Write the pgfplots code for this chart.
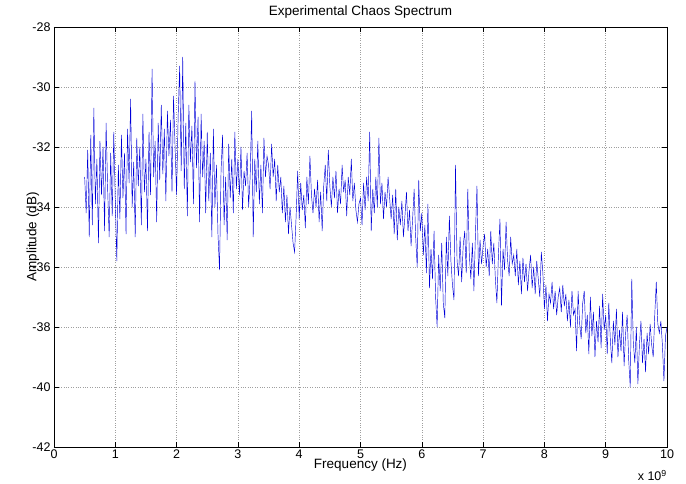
\documentclass[border=0pt]{standalone}
\usepackage{pgfplots}
\pgfplotsset{compat=1.18}
\usepackage{fontspec}
\setmainfont{Liberation Sans}
\begin{document}
\begin{tikzpicture}[font=\fontsize{12.5bp}{14bp}\selectfont]
\begin{axis}[
    scale only axis,
    width=613bp, height=420bp,
    xmin=0, xmax=10, ymin=-42, ymax=-28,
    xtick={0,1,...,10}, ytick={-42,-40,...,-28},
    xticklabels={0,1,2,3,4,5,6,7,8,9,10},
    yticklabels={-42,-40,-38,-36,-34,-32,-30,-28},
    tick align=inside, tick pos=both,
    major tick length=5bp,
    grid=major,
    grid style={dotted, gray!75, line width=0.5pt},
    axis line style={black, line width=0.5pt},
    tick style={black, line width=0.5pt},
    xticklabel style={yshift=1bp},
    yticklabel style={xshift=0bp},
    clip=false,
  ]
  \addplot[color=blue!85!black, line width=0.45pt] coordinates {
(0.500,-33.0)(0.525,-34.2)(0.550,-32.1)(0.575,-35.0)(0.600,-31.6)(0.625,-34.6)(0.650,-30.7)(0.675,-33.9)(0.700,-32.4)(0.725,-35.2)(0.750,-31.8)(0.775,-33.6)(0.800,-32.0)(0.825,-34.8)(0.850,-31.2)(0.875,-33.4)(0.900,-35.0)(0.925,-32.2)(0.950,-34.3)(0.975,-31.5)
(1.000,-33.8)(1.025,-35.8)(1.050,-32.6)(1.075,-34.4)(1.100,-31.6)(1.125,-33.7)(1.150,-32.2)(1.175,-34.9)(1.200,-31.4)(1.225,-33.2)(1.250,-30.4)(1.275,-34.0)(1.300,-32.5)(1.325,-35.0)(1.350,-31.7)(1.375,-33.3)(1.400,-32.0)(1.425,-34.6)(1.450,-30.9)(1.475,-33.5)
(1.500,-32.4)(1.525,-34.8)(1.550,-31.5)(1.575,-33.6)(1.600,-29.4)(1.625,-33.0)(1.650,-31.8)(1.675,-34.5)(1.700,-31.2)(1.725,-33.1)(1.750,-30.6)(1.775,-32.9)(1.800,-31.4)(1.825,-33.8)(1.850,-30.8)(1.875,-32.3)(1.900,-31.1)(1.925,-33.5)(1.950,-30.3)(1.975,-32.0)
(2.000,-33.6)(2.025,-31.0)(2.050,-29.3)(2.075,-32.8)(2.100,-29.0)(2.125,-33.4)(2.150,-31.2)(2.175,-34.3)(2.200,-30.6)(2.225,-32.5)(2.250,-31.3)(2.275,-33.9)(2.300,-29.8)(2.325,-32.7)(2.350,-31.0)(2.375,-34.5)(2.400,-30.9)(2.425,-33.0)(2.450,-31.8)(2.475,-34.2)
(2.500,-31.5)(2.525,-33.8)(2.550,-32.2)(2.575,-35.0)(2.600,-31.4)(2.625,-34.0)(2.650,-32.6)(2.675,-34.9)(2.700,-36.1)(2.725,-32.8)(2.750,-31.6)(2.775,-34.6)(2.800,-33.0)(2.825,-35.1)(2.850,-31.9)(2.875,-33.7)(2.900,-32.4)(2.925,-34.2)(2.950,-31.5)(2.975,-33.4)
(3.000,-32.4)(3.025,-33.6)(3.050,-32.0)(3.075,-34.1)(3.100,-32.8)(3.125,-33.3)(3.150,-32.2)(3.175,-34.0)(3.200,-33.0)(3.225,-30.8)(3.250,-35.0)(3.275,-32.4)(3.300,-33.5)(3.325,-31.8)(3.350,-33.9)(3.375,-32.6)(3.400,-34.2)(3.425,-31.7)(3.450,-33.0)(3.475,-32.3)
(3.500,-32.6)(3.525,-33.4)(3.550,-31.9)(3.575,-33.0)(3.600,-32.4)(3.625,-33.8)(3.650,-32.6)(3.675,-33.5)(3.700,-33.0)(3.725,-34.2)(3.750,-33.3)(3.775,-34.5)(3.800,-33.6)(3.825,-34.9)(3.850,-34.0)(3.875,-34.6)(3.900,-35.2)(3.925,-35.5)(3.950,-34.3)(3.975,-32.8)
(4.000,-34.4)(4.025,-33.2)(4.050,-34.1)(4.075,-33.6)(4.100,-34.7)(4.125,-33.0)(4.150,-33.9)(4.175,-32.3)(4.200,-33.6)(4.225,-34.2)(4.250,-33.4)(4.275,-34.0)(4.300,-33.1)(4.325,-34.5)(4.350,-33.5)(4.375,-34.8)(4.400,-33.3)(4.425,-32.6)(4.450,-33.8)(4.475,-32.1)
(4.500,-33.3)(4.525,-34.0)(4.550,-33.0)(4.575,-33.7)(4.600,-32.8)(4.625,-34.2)(4.650,-33.4)(4.675,-33.9)(4.700,-32.6)(4.725,-33.5)(4.750,-33.1)(4.775,-34.3)(4.800,-33.0)(4.825,-33.6)(4.850,-32.4)(4.875,-33.8)(4.900,-33.2)(4.925,-34.1)(4.950,-34.5)(4.975,-33.9)
(5.000,-33.7)(5.025,-34.6)(5.050,-33.2)(5.075,-34.1)(5.100,-33.0)(5.125,-33.8)(5.150,-31.5)(5.175,-34.8)(5.200,-33.4)(5.225,-34.2)(5.250,-33.0)(5.275,-34.0)(5.300,-31.7)(5.325,-33.9)(5.350,-33.2)(5.375,-34.4)(5.400,-33.5)(5.425,-34.0)(5.450,-33.0)(5.475,-33.7)
(5.500,-34.4)(5.525,-33.6)(5.550,-34.9)(5.575,-33.4)(5.600,-35.1)(5.625,-34.0)(5.650,-34.6)(5.675,-33.8)(5.700,-35.0)(5.725,-34.3)(5.750,-33.5)(5.775,-34.8)(5.800,-34.1)(5.825,-35.3)(5.850,-34.4)(5.875,-33.4)(5.900,-35.0)(5.925,-36.0)(5.950,-33.1)(5.975,-34.8)
(6.000,-34.2)(6.025,-35.6)(6.050,-34.6)(6.075,-36.2)(6.100,-33.9)(6.125,-36.7)(6.150,-35.4)(6.175,-36.4)(6.200,-34.8)(6.225,-37.0)(6.250,-38.0)(6.275,-35.6)(6.300,-36.8)(6.325,-35.2)(6.350,-37.2)(6.375,-37.7)(6.400,-35.0)(6.425,-36.3)(6.450,-34.3)(6.475,-35.8)
(6.500,-36.6)(6.525,-37.1)(6.550,-32.6)(6.575,-35.8)(6.600,-36.3)(6.625,-35.0)(6.650,-36.5)(6.675,-35.3)(6.700,-34.8)(6.725,-36.2)(6.750,-33.4)(6.775,-35.6)(6.800,-36.4)(6.825,-35.2)(6.850,-36.8)(6.875,-34.9)(6.900,-33.3)(6.925,-36.3)(6.950,-35.1)(6.975,-35.9)
(7.000,-35.3)(7.025,-34.9)(7.050,-36.0)(7.075,-35.4)(7.100,-36.3)(7.125,-34.8)(7.150,-35.9)(7.175,-35.2)(7.200,-36.4)(7.225,-37.2)(7.250,-35.6)(7.275,-34.4)(7.300,-37.3)(7.325,-35.4)(7.350,-36.1)(7.375,-34.5)(7.400,-35.8)(7.425,-36.3)(7.450,-35.0)(7.475,-35.9)
(7.500,-35.6)(7.525,-36.3)(7.550,-35.4)(7.575,-36.6)(7.600,-35.8)(7.625,-36.9)(7.650,-35.7)(7.675,-36.5)(7.700,-35.9)(7.725,-36.8)(7.750,-36.1)(7.775,-35.6)(7.800,-36.7)(7.825,-36.0)(7.850,-36.9)(7.875,-35.8)(7.900,-36.4)(7.925,-37.0)(7.950,-35.5)(7.975,-36.2)
(8.000,-37.4)(8.025,-36.6)(8.050,-37.8)(8.075,-36.9)(8.100,-37.2)(8.125,-36.5)(8.150,-37.4)(8.175,-36.8)(8.200,-37.6)(8.225,-37.0)(8.250,-36.7)(8.275,-37.5)(8.300,-36.6)(8.325,-37.3)(8.350,-36.9)(8.375,-37.8)(8.400,-37.1)(8.425,-38.0)(8.450,-36.8)(8.475,-37.6)
(8.500,-37.4)(8.525,-38.8)(8.550,-36.8)(8.575,-37.9)(8.600,-38.4)(8.625,-37.2)(8.650,-36.8)(8.675,-38.2)(8.700,-37.6)(8.725,-38.9)(8.750,-37.0)(8.775,-38.3)(8.800,-37.5)(8.825,-39.0)(8.850,-37.8)(8.875,-38.5)(8.900,-37.3)(8.925,-38.7)(8.950,-36.9)(8.975,-38.1)
(9.000,-37.6)(9.025,-38.9)(9.050,-37.2)(9.075,-38.4)(9.100,-39.2)(9.125,-37.8)(9.150,-38.6)(9.175,-37.4)(9.200,-39.0)(9.225,-38.1)(9.250,-38.8)(9.275,-37.5)(9.300,-39.3)(9.325,-38.2)(9.350,-37.6)(9.375,-39.1)(9.400,-40.0)(9.425,-36.4)(9.450,-38.5)(9.475,-39.2)
(9.500,-38.0)(9.525,-39.9)(9.550,-38.6)(9.575,-37.8)(9.600,-39.2)(9.625,-38.4)(9.650,-39.5)(9.675,-38.2)(9.700,-38.9)(9.725,-37.9)(9.750,-38.6)(9.775,-39.0)(9.800,-37.6)(9.825,-36.5)(9.850,-37.9)(9.875,-38.2)(9.900,-37.8)(9.925,-38.6)(9.950,-39.8)(9.975,-38.3)(10.000,-38.0)
  };
  \node at (rel axis cs:0.5,1) [yshift=15bp, font=\fontsize{13.5bp}{15bp}\selectfont] {Experimental Chaos Spectrum};
  \node at (rel axis cs:0.5,0) [yshift=-18bp, font=\fontsize{13.5bp}{15bp}\selectfont] {Frequency (Hz)};
  \node at (rel axis cs:0,0.5) [xshift=-21bp, rotate=90, font=\fontsize{13.5bp}{15bp}\selectfont] {Amplitude (dB)};
  \node at (rel axis cs:1,0) [yshift=-28.5bp, anchor=east, inner sep=0pt] {x 10\textsuperscript{9}};
  \coordinate (bl) at (rel axis cs:0,0);
  \coordinate (tr) at (rel axis cs:1,1);
\end{axis}
\pgfresetboundingbox
\path ([shift={(-54bp,-37bp)}]bl) rectangle ([shift={(19bp,27bp)}]tr);
\end{tikzpicture}
\end{document}
